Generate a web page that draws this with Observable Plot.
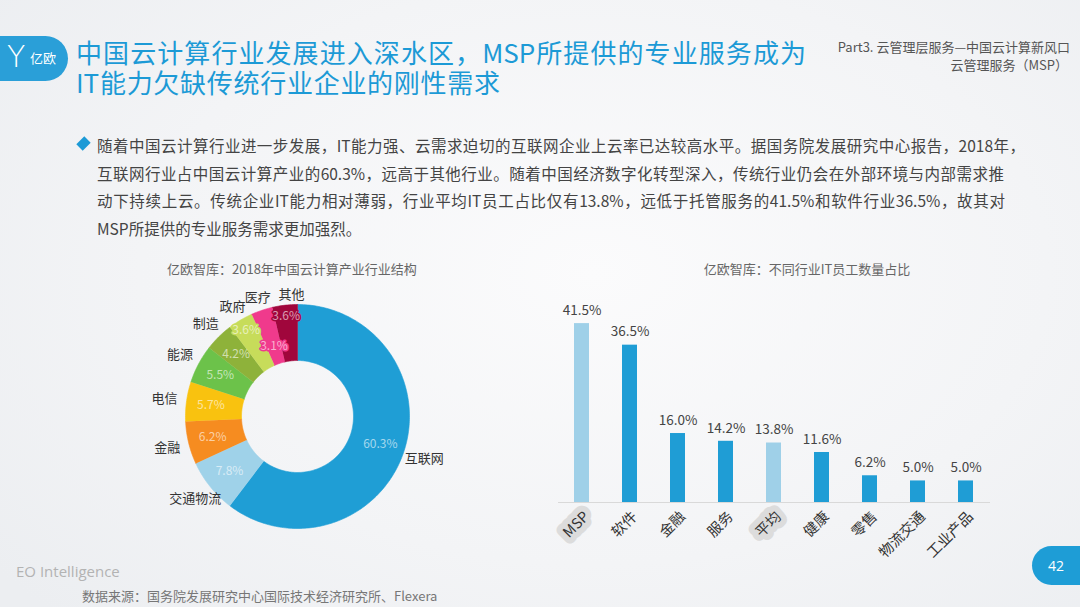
<!DOCTYPE html>
<html>
<head>
<meta charset="utf-8">
<script src="https://cdn.jsdelivr.net/npm/d3@7"></script>
<script src="https://cdn.jsdelivr.net/npm/@observablehq/plot@0.6"></script>
<style>
  html, body { margin: 0; padding: 0; }
  body {
    width: 1080px; height: 607px; position: relative; overflow: hidden;
    font-family: "Noto Sans CJK SC", "Noto Sans", sans-serif;
    background: radial-gradient(ellipse 70% 80% at 55% 45%, #fbfbfc 0%, #f3f4f6 60%, #eceef1 100%);
  }
  .abs { position: absolute; white-space: nowrap; }
  #logo { left: 0; top: 36px; width: 68px; height: 45px; background: #2a9fd8; border-radius: 0 23px 23px 0; color: #fff; }
  #logo .y { position: absolute; left: 7px; top: 4px; font-size: 30px; line-height: 34px; font-weight: 300; font-family: "DejaVu Sans", sans-serif; }
  #logo .t { position: absolute; left: 30px; top: 13px; font-size: 13px; line-height: 18px; }
  .title { left: 76px; font-size: 26px; line-height: 28px; height: 28px; color: #1c9ad6; text-align: justify; text-align-last: justify; }
  .part { right: 10px; font-size: 13px; line-height: 17px; color: #555; text-align: right; }
  #body { left: 97px; top: 133px; font-size: 15.5px; color: #444; }
  #body .l { position: absolute; left: 0; height: 24px; line-height: 24px; text-align: justify; text-align-last: justify; white-space: nowrap; }
  #bullet { left: 79px; top: 139px; width: 9px; height: 9px; background: #1c9ad6; transform: rotate(45deg) scaleY(1.25); }
  .ctitle { font-size: 13px; color: #666; line-height: 18px; }
  #eo { left: 16px; top: 561px; font-size: 15px; color: #b3b3b3; font-family: "Open Sans", sans-serif; }
  #src { left: 82px; top: 586px; font-size: 13px; color: #777; }
  #page { left: 1032px; top: 546px; width: 48px; height: 39px; background: #1e9dd6; border-radius: 20px 0 0 20px; color: #fff; font-size: 14px; line-height: 39px; text-align: center; font-family: "Open Sans", sans-serif; }
  #pie { left: 120px; top: 283px; }
  #bar { left: 550px; top: 285px; }
</style>
</head>
<body>
<div id="logo" class="abs"><span class="y">Y</span><span class="t">亿欧</span></div>
<div class="abs title" style="top:38px; width:730px;">中国云计算行业发展进入深水区，MSP所提供的专业服务成为</div>
<div class="abs title" style="top:68px; width:424px;">IT能力欠缺传统行业企业的刚性需求</div>
<div class="abs part" style="top:38px;">Part3. 云管理层服务—中国云计算新风口</div>
<div class="abs part" style="top:56px; right:12px;">云管理服务（MSP）</div>
<div id="bullet" class="abs"></div>
<div id="body" class="abs"></div>
<div class="abs ctitle" style="left:167px; top:260px;">亿欧智库：2018年中国云计算产业行业结构</div>
<div class="abs ctitle" style="left:700px; top:260px; width:214px; text-align:center;">亿欧智库：不同行业IT员工数量占比</div>
<div id="pie" class="abs"></div>
<div id="bar" class="abs"></div>
<div id="eo" class="abs">EO Intelligence</div>
<div id="src" class="abs">数据来源：国务院发展研究中心国际技术经济研究所、Flexera</div>
<div id="page" class="abs">42</div>
<script>
// ---------- text content ----------
const bodyLines = [
  "随着中国云计算行业进一步发展，IT能力强、云需求迫切的互联网企业上云率已达较高水平。据国务院发展研究中心报告，2018年，",
  "互联网行业占中国云计算产业的60.3%，远高于其他行业。随着中国经济数字化转型深入，传统行业仍会在外部环境与内部需求推",
  "动下持续上云。传统企业IT能力相对薄弱，行业平均IT员工占比仅有13.8%，远低于托管服务的41.5%和软件行业36.5%，故其对",
  "MSP所提供的专业服务需求更加强烈。"
];

// ---------- pie data ----------
const pieLabels = ["互联网", "交通物流", "金融", "电信", "能源", "制造", "政府", "医疗", "其他"];
const pieValues = [60.3, 7.8, 6.2, 5.7, 5.5, 4.2, 3.6, 3.1, 3.6];
const pieColors = ["#1f9ed5", "#9fd2e9", "#f68c20", "#f9c20f", "#6cc24a", "#8eb23a", "#c7dc5a", "#f03a8c", "#a0063c"];

// ---------- bar data ----------
const barLabels = ["MSP", "软件", "金融", "服务", "平均", "健康", "零售", "物流交通", "工业产品"];
const barValues = [41.5, 36.5, 16.0, 14.2, 13.8, 11.6, 6.2, 5.0, 5.0];
const barHighlight = ["MSP", "平均"];

// body text lines
const bodyEl = document.getElementById("body");
const lineTops = [0, 28, 55, 83];
const lineWidths = [928, 907, 908, null];
bodyLines.forEach((t, i) => {
  const d = document.createElement("div");
  d.className = "l";
  d.style.top = lineTops[i] + "px";
  if (lineWidths[i]) d.style.width = lineWidths[i] + "px";
  d.textContent = t;
  bodyEl.appendChild(d);
});

const font = '"Noto Sans CJK SC", "Noto Sans", sans-serif';

// ---------- donut ----------
const total = d3.sum(pieValues);
let acc = 0;
const slices = pieLabels.map((name, i) => {
  const a0 = acc / total * 2 * Math.PI;
  acc += pieValues[i];
  const a1 = acc / total * 2 * Math.PI;
  const small = pieValues[i] < 4;
  // inner label radius: small slices alternate between outer and inner positions
  const rIn = small ? (i % 2 === 0 ? 0.9 : 0.66) : 0.78;
  return {name, value: pieValues[i], color: pieColors[i], a0, a1, mid: (a0 + a1) / 2, rIn};
});
const R = 1, R0 = 0.5;
function ring(s) {
  const n = Math.max(4, Math.ceil((s.a1 - s.a0) / (Math.PI / 180)));
  const pts = [];
  for (let k = 0; k <= n; k++) { const a = s.a0 + (s.a1 - s.a0) * k / n; pts.push({x: Math.sin(a) * R, y: Math.cos(a) * R}); }
  for (let k = n; k >= 0; k--) { const a = s.a0 + (s.a1 - s.a0) * k / n; pts.push({x: Math.sin(a) * R0, y: Math.cos(a) * R0}); }
  return pts;
}
const rOut = s => 1.08 + 0.12 * Math.abs(Math.sin(s.mid));
// labels right at the top are nudged clockwise so they do not crowd their neighbour
const xOut = s => Math.sin(s.mid) * rOut(s) + (Math.abs(Math.sin(s.mid)) < 0.2 ? 0.07 : 0);
const pieW = 340, pieH = 270, cx = 177, cy = 133, rpx = 112;
const pie = Plot.plot({
  width: pieW, height: pieH,
  margin: 0,
  x: {domain: [-cx / rpx, (pieW - cx) / rpx], axis: null},
  y: {domain: [-(pieH - cy) / rpx, cy / rpx], axis: null},
  style: {fontFamily: font, background: "transparent", overflow: "visible"},
  marks: [
    ...slices.map(s => Plot.line(ring(s), {x: "x", y: "y", fill: s.color, stroke: s.color, strokeWidth: 0.6, curve: "linear"})),
    ...slices.map(s => Plot.text([s], {
      x: d => Math.sin(d.mid) * d.rIn, y: d => Math.cos(d.mid) * d.rIn,
      text: d => d.value.toFixed(1) + "%", fill: "white", fillOpacity: 0.6, fontSize: 12,
      stroke: s.color, strokeWidth: s.value < 4 ? 3 : 0
    })),
    Plot.text(slices, {
      x: xOut, y: s => Math.cos(s.mid) * rOut(s),
      text: "name", fill: "#333", fontSize: 13
    })
  ]
});
document.getElementById("pie").appendChild(pie);

// ---------- bars ----------
const barData = barLabels.map((name, i) => ({name, value: barValues[i], hi: barHighlight.includes(name)}));
const bar = Plot.plot({
  width: 450, height: 300,
  marginLeft: 8, marginRight: 10, marginTop: 20, marginBottom: 83,
  x: {domain: barLabels, paddingInner: 0.68, paddingOuter: 0.34, axis: null},
  y: {domain: [0, 45.7], axis: null},
  style: {fontFamily: font, background: "transparent", overflow: "visible"},
  marks: [
    Plot.barY(barData.filter(d => d.hi), {x: "name", y: "value", fill: "#9fd0e8"}),
    Plot.barY(barData.filter(d => !d.hi), {x: "name", y: "value", fill: "#1f9dd5"}),
    Plot.ruleY([0], {stroke: "#d9d9d9", strokeWidth: 1.2}),
    Plot.text(barData, {x: "name", y: "value", text: d => d.value.toFixed(1) + "%", dy: -13, fill: "#444", fontSize: 13.5}),
    Plot.text(barData.filter(d => d.hi), {x: "name", frameAnchor: "bottom", text: "name", rotate: -45, textAnchor: "end", dx: 8, dy: 15, fill: "#333", fontSize: 14.5, stroke: "#dcdcdc", strokeWidth: 12, strokeLinejoin: "round"}),
    Plot.text(barData.filter(d => !d.hi), {x: "name", frameAnchor: "bottom", text: "name", rotate: -45, textAnchor: "end", dx: 8, dy: 15, fill: "#333", fontSize: 14.5})
  ]
});
document.getElementById("bar").appendChild(bar);
</script>
</body>
</html>
